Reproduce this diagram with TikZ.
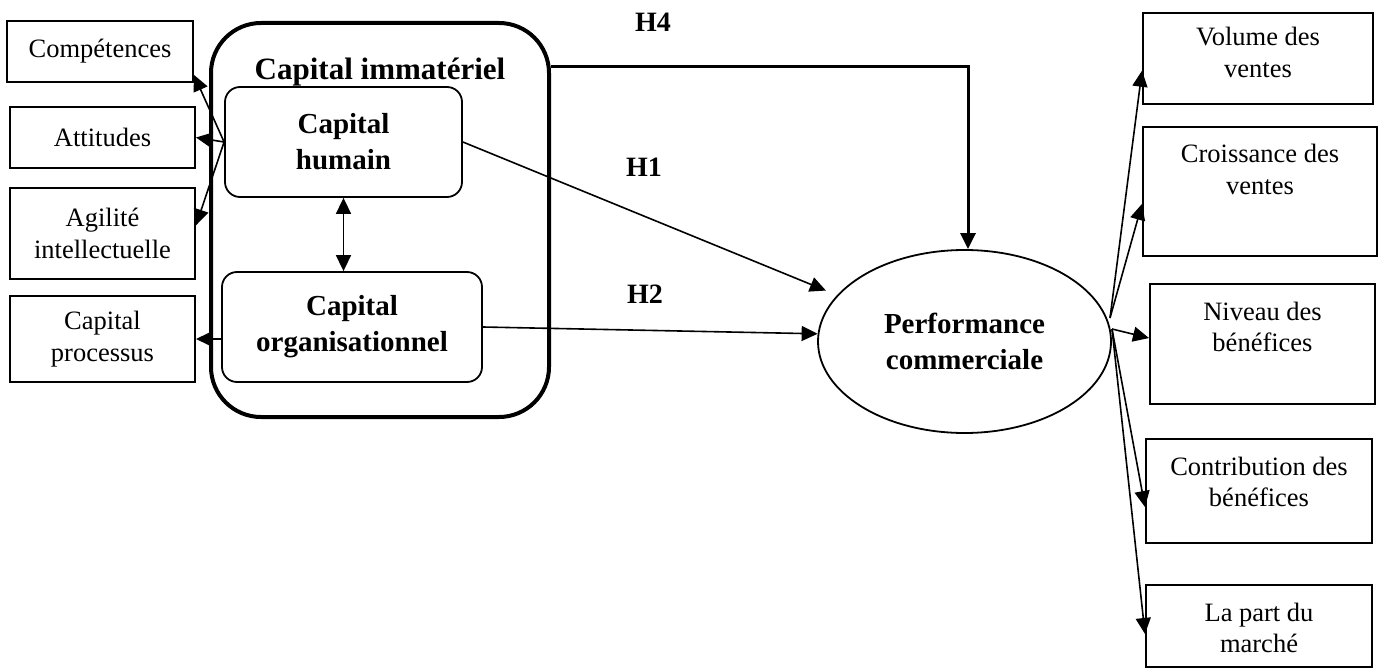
\documentclass[tikz,border=0pt]{standalone}
\usepackage{fontspec}
\setmainfont{Liberation Serif}
\usetikzlibrary{arrows.meta,shapes.geometric}
\newcommand{\regfont}{\fontsize{13.25}{15.75}\selectfont}
\newcommand{\boxfont}{\bfseries\fontsize{14.5}{18}\selectfont}
\newcommand{\hfont}{\bfseries\fontsize{14}{16}\selectfont}

\begin{document}
\begin{tikzpicture}[x=0.5pt,y=-0.5pt,
  ind/.style={draw,line width=1pt,inner sep=0pt,align=center,font=\regfont},
  res/.style={ind,anchor=north,text height=33.75pt},
  sub/.style={draw,line width=0.9pt,rounded corners=7.5pt,inner sep=0pt,
    align=center,font=\boxfont},
  a/.style={-{Triangle[length=8pt,width=7.5pt]},line width=0.8pt},
  aa/.style={{Triangle[length=8pt,width=7.5pt]}-{Triangle[length=8pt,width=7.5pt]},line width=0.8pt}
]
\useasboundingbox (0,0) rectangle (1381,668);

\node[ind,minimum width=93pt,minimum height=30.5pt] (comp) at (100,51.5) {Compétences};
\node[ind,minimum width=92.5pt,minimum height=30.5pt] (att) at (102.5,137.5) {Attitudes};
\node[ind,minimum width=92.5pt,minimum height=45.5pt] (agi) at (102.5,233.5) {Agilité\\intellectuelle};
\node[ind,minimum width=92.5pt,minimum height=43pt] (proc) at (102.5,339) {Capital\\processus};

\node[draw,line width=2pt,rounded corners=25pt,inner sep=0pt,anchor=north,
  minimum width=169pt,text height=28.5pt,text depth=168.5pt,
  font=\bfseries\fontsize{15.5}{18}\selectfont] (immat) at (380,21) {Capital immatériel};
\node[sub,minimum width=118.5pt,minimum height=55pt] (hum) at (343.5,142) {Capital\\humain};
\node[sub,minimum width=130pt,minimum height=55pt] (org) at (352,327) {Capital\\organisationnel};

\node[draw,ellipse,line width=0.9pt,inner sep=0pt,minimum width=146.5pt,
  minimum height=91.5pt,align=center,font=\boxfont] (perf) at (964.5,341.5) {Performance\\commerciale};

\node[res,minimum width=115pt,text height=32.25pt,text depth=13.25pt] (vol) at (1258,12) {Volume des\\ventes};
\node[res,minimum width=117pt,text depth=30.75pt] (cro) at (1260,126) {Croissance des\\ventes};
\node[res,minimum width=112.5pt,text depth=26.25pt] (niv) at (1262.5,283) {Niveau des\\bénéfices};
\node[res,minimum width=113pt,text depth=18.25pt] (con) at (1259,438) {Contribution des\\bénéfices};
\node[res,minimum width=113pt,text depth=7.25pt] (part) at (1259,584) {La part du\\marché};

\node[font=\hfont] (h4) at (653,22) {H4};
\node[font=\hfont] (h1) at (644,167) {H1};
\node[font=\hfont] (h2) at (645,294) {H2};

\coordinate (turn) at (968,67);
\coordinate (fanup) at (1110,318);
\coordinate (fandn) at (1112,329);

\draw[a] (hum.west) -- (comp.-14);
\draw[a] (hum.west) -- (att.east);
\draw[a] (hum.west) -- (agi.5);
\draw[a] (org.west |- proc.east) -- (proc.east);
\draw[aa] (hum.south) -- (hum.south |- org.north);

\draw[a,line width=1.5pt] (turn -| immat.east) -- (turn) -- (turn |- perf.north);
\draw[a,shorten >=6pt] (hum.east) -- (perf.160);
\draw[a] (org.east) -- (perf.177);

\draw[a] (fanup) -- (vol.186);
\draw[a] (fanup) -- (cro.186);
\draw[a] (fandn) -- (niv.177);
\draw[a] (fandn) -- (con.188);
\draw[a] (fandn) -- (part.184);
\end{tikzpicture}
\end{document}
